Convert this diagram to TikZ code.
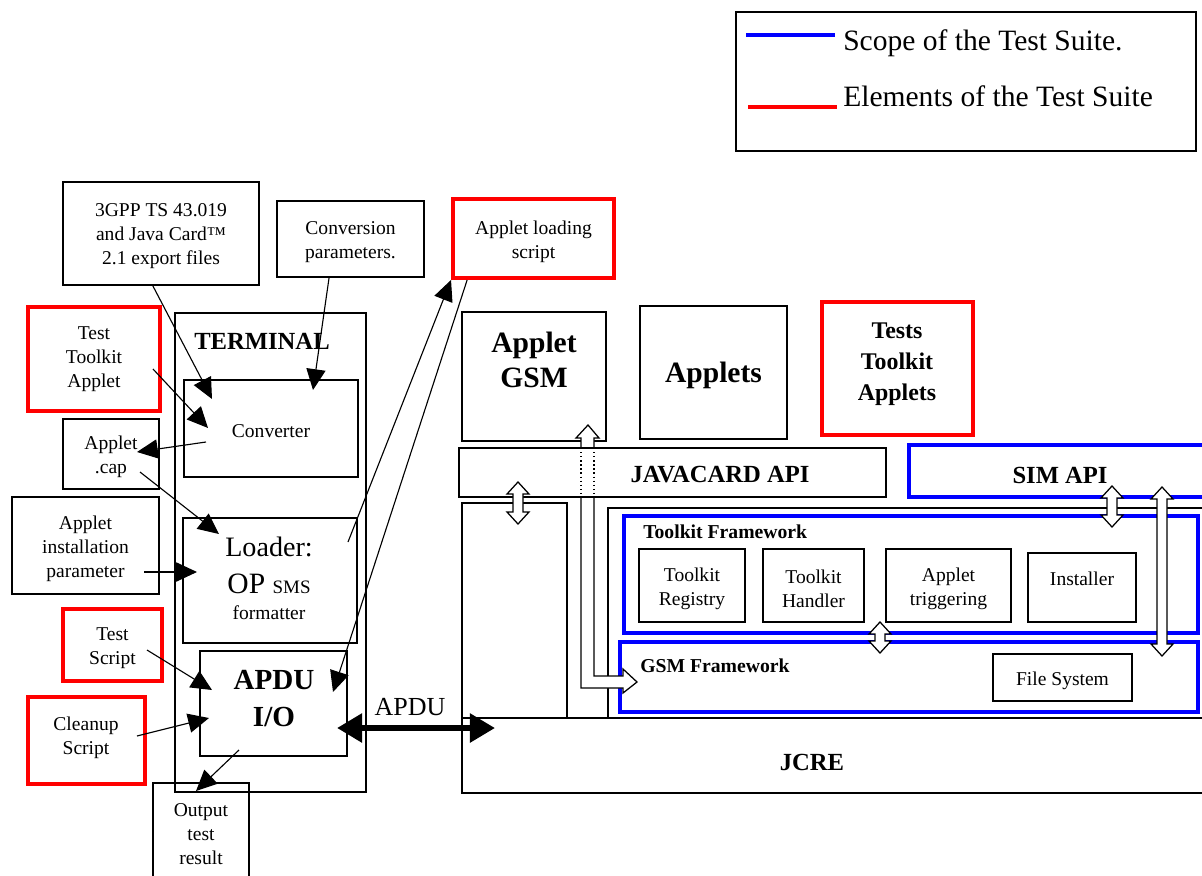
\documentclass[tikz,border=0pt]{standalone}
\usepackage{fontspec}
\setmainfont{Liberation Serif}
\usetikzlibrary{arrows.meta,fit}
\tikzset{block/.style = {draw, line width=0.9pt, rectangle, inner sep=0pt},
         rblock/.style= {block, draw=red, line width=2.8pt},
         bblock/.style= {block, draw=blue, line width=2.8pt},
         txt/.style   = {inner sep=0pt, align=center, font=\fontsize{13.9}{17}\selectfont},
         intxt/.style = {txt, yshift=-2.1pt},
         head/.style  = {txt, font=\fontsize{17.5}{21}\selectfont\bfseries},
         big/.style   = {txt, font=\fontsize{21}{25}\selectfont\bfseries},
         arr/.style   = {-{Triangle[length=0.52cm,width=0.48cm]}, line width=0.8pt},
         hollow/.style= {draw, fill=white, line width=0.9pt}}
\newcommand{\updown}[3]{\draw[hollow](#1,#2)--(#1+11,#2+12)--(#1+5,#2+12)--(#1+5,#3-12)--(#1+11,#3-12)--(#1,#3)--(#1-11,#3-12)--(#1-5,#3-12)--(#1-5,#2+12)--(#1-11,#2+12)--cycle;}

\begin{document}
\begin{tikzpicture}[x=0.025cm,y=-0.025cm]
        \useasboundingbox(0,0)rectangle(1202,875);
        \clip(0,0)rectangle(1202,875);
        \node[block,fit={(736,12)(1196,151)}](leg){};
        \draw[blue,line width=3pt](746,35)--(835,35);
        \draw[red,line width=3pt](748,107)--(837,107);
        \node[txt,anchor=west,font=\fontsize{21}{25}\selectfont](scope)at(843,43){Scope of the Test Suite.};
        \node[txt,anchor=west,font=\fontsize{21}{25}\selectfont](elem)at(843,96){Elements of the Test Suite};

        \node[block,fit={(63,182)(259,285)}](gpp){};
        \node[intxt](gppt)at(gpp){3GPP TS 43.019\\and Java Card™\\2.1 export files};
        \node[block,fit={(277,201)(424,277)}](cpar){};
        \node[intxt](cpart)at(cpar){Conversion\\parameters.};
        \node[rblock,fit={(28,307)(160,411)}](tta){};
        \node[txt](ttat)at(tta){Test\\Toolkit\\Applet};
        \node[block,fit={(175,313)(366,792)}](term){};
        \node[head](termt)at(262,341){TERMINAL};
        \node[block,fit={(184,380)(358,477)}](conv){};
        \node[intxt](convt)at(conv){Converter};
        \node[block,fit={(63,419)(159,489)}](cap){};
        \node[intxt](capt)at(cap){Applet\\.cap};
        \node[block,fit={(12,497)(159,594)}](inst){};
        \node[intxt](instt)at(inst){Applet\\installation\\parameter};
        \node[block,fit={(183,518)(357,643)}](load){};
        \node[txt,anchor=base,font=\fontsize{20}{24}\selectfont](loadt)at(269,556){Loader:};
        \node[txt,anchor=base,font=\fontsize{21}{24}\selectfont](opt)at(269,593){OP {\fontsize{13.5}{16}\selectfont SMS}};
        \node[txt,anchor=base](fmtt)at(269,619){formatter};
        \node[rblock,fit={(63,609)(162,681)}](ts){};
        \node[intxt](tst)at(ts){Test\\Script};
        \node[rblock,fit={(28,697)(145,784)}](cs){};
        \node[txt](cst)at(86,738){Cleanup\\Script};
        \node[block,fit={(200,651)(347,756)}](apdu){};
        \node[txt,font=\fontsize{20.7}{26.3}\selectfont\bfseries](apdut)at(274,699){APDU\\I/O};
        \node[block,fit={(153,783)(249,880)}](out){};
        \node[txt](outt)at(201,834){Output\\test\\result};

        \node[rblock,fit={(453,199)(614,278)}](als){};
        \node[intxt](alst)at(als){Applet loading\\script};
        \node[block,fit={(462,312)(606,441)}](agsm){};
        \node[big](agsmt)at(534,360){Applet\\GSM};
        \node[block,fit={(640,306)(787,439)}](apps){};
        \node[big,yshift=-2.1pt](appst)at(apps){Applets};
        \node[rblock,fit={(822,302)(973,435)}](tests){};
        \node[txt,font=\fontsize{17}{22}\selectfont\bfseries](testst)at(897,364){Tests\\Toolkit\\Applets};

        \node[block,fit={(462,718)(1230,793)}](jcre){};
        \node[head](jcret)at(812,762){JCRE};
        \node[block,fit={(462,503)(567,718)}](lbox){};
        \node[block,fit={(608,508)(1230,718)}](card){};
        \node[bblock,fit={(624,516)(1198,633)}](tkf){};
        \node[bblock,fit={(620,642)(1198,712)}](gsmf){};
        \node[txt,anchor=west,font=\fontsize{14}{17}\selectfont\bfseries](tkft)at(643,532){Toolkit Framework};
        \node[block,line width=1.3pt,fit={(639,549)(745,622)}](reg){};
        \node[intxt](regt)at(reg){Toolkit\\Registry};
        \node[block,fit={(763,549)(864,622)}](hand){};
        \node[intxt](handt)at(hand){Toolkit\\Handler};
        \node[block,fit={(886,549)(1011,622)}](trig){};
        \node[intxt](trigt)at(trig){Applet\\triggering};
        \node[block,fit={(1028,553)(1136,622)}](instl){};
        \node[txt](instlt)at(1082,579){Installer};
        \node[txt,anchor=west,font=\fontsize{14}{17}\selectfont\bfseries](gsmft)at(640,666){GSM Framework};
        \node[block,fit={(993,654)(1132,701)}](fs){};
        \node[intxt](fst)at(fs){File System};

        \fill[white](588,425)--(599,438)--(594,438)--(594,676)--(623,676)--(623,669)--(637,682)--(623,693)--(623,688)--(581,688)--(581,438)--(576,438)--cycle;
        \draw[line width=0.9pt](594,497)--(594,676)--(623,676)--(623,669)--(637,682)--(623,693)--(623,688)--(581,688)--(581,497);
        \draw[line width=0.9pt](581,448)--(581,438)--(576,438)--(588,425)--(599,438)--(594,438)--(594,448);
        \draw[dotted,line width=0.9pt](581,448)--(581,497)(594,448)--(594,497);

        \node[block,fit={(459,448)(886,497)}](jc){};
        \node[head](jct)at(720,475){JAVACARD API};
        \node[bblock,fit={(909,445)(1230,497)}](sim){};
        \node[head](simt)at(1060,475){SIM API};

        \updown{518}{482}{524}
        \updown{880}{622}{653}
        \updown{1112}{486}{527}
        \updown{1162}{487}{656}

        \coordinate(apduL)at(337,728);
        \coordinate(apduR)at(495,728);
        \draw[{Triangle[length=0.63cm,width=0.7cm]}-{Triangle[length=0.63cm,width=0.7cm]},line width=4.3pt](apduL)--(apduR);
        \node[txt,font=\fontsize{18.5}{22}\selectfont](apdul)at(410,707){APDU};

        \coordinate(cvA)at(212,399);
        \coordinate(cvB)at(313,390);
        \coordinate(ttaA)at(153,369);
        \coordinate(cvC)at(208,428);
        \coordinate(cvD)at(206,442);
        \coordinate(capA)at(137,452);
        \coordinate(capB)at(140,472);
        \coordinate(ldA)at(219,534);
        \coordinate(instA)at(144,572);
        \coordinate(ldB)at(197,572);
        \coordinate(tsA)at(147,650);
        \coordinate(apA)at(212,690);
        \coordinate(csA)at(137,736);
        \coordinate(apB)at(209,718);
        \coordinate(apC)at(239,750);
        \coordinate(outA)at(196,791);
        \coordinate(ldC)at(348,542);
        \coordinate(apD)at(333,692);
        \draw[arr](gpp.-99)--(cvA);
        \draw[arr](cpar.-119)--(cvB);
        \draw[arr](ttaA)--(cvC);
        \draw[arr](cvD)--(capA);
        \draw[arr](capB)--(ldA);
        \draw[arr](instA)--(ldB);
        \draw[arr](tsA)--(apA);
        \draw[arr](csA)--(apB);
        \draw[arr](apC)--(outA);
        \draw[arr](ldC)--(als.south west);
        \draw[arr](als.-148)--(apD);
\end{tikzpicture}
\end{document}
